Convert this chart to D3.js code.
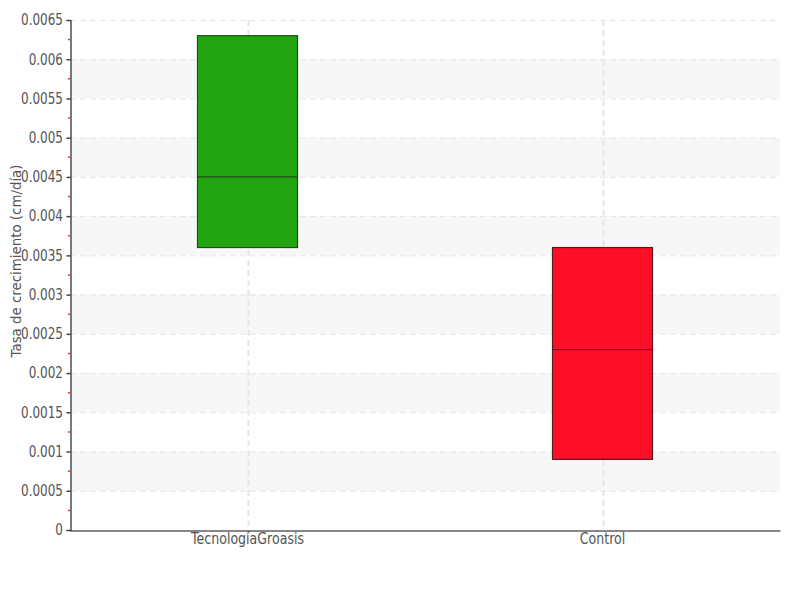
<!DOCTYPE html>
<html><head><meta charset="utf-8">
<script src="https://cdn.jsdelivr.net/npm/d3@7"></script>
<style>body{margin:0;background:#fff;} text{font-family:"DejaVu Sans",sans-serif;}</style>
</head><body><svg id="c" width="800" height="600"></svg>
<script>
const categories = ["TecnologíaGroasis", "Control"];
const q1 = [0.0036, 0.0009];
const median = [0.0045, 0.0023];
const q3 = [0.0063, 0.0036];
const colors = ["#22a511", "#ff0e28"];
const strokes = ["#1e4d18", "#5a1a22"];
const yTicks = [0,0.0005,0.001,0.0015,0.002,0.0025,0.003,0.0035,0.004,0.0045,0.005,0.0055,0.006,0.0065];
const yTickLabels = ["0","0.0005","0.001","0.0015","0.002","0.0025","0.003","0.0035","0.004","0.0045","0.005","0.0055","0.006","0.0065"];
const yTitle = "Tasa de crecimiento (cm/día)";

const svg = d3.select("#c");
const L=70,R=780,T=20,B=530;
const y = d3.scaleLinear().domain([0,0.0065]).range([B,T]);
const x = d3.scaleBand().domain(categories).range([L,R]);

for(let i=0;i<yTicks.length-1;i++){
  if(i%2===1){
    svg.append("rect").attr("x",L).attr("width",R-L)
      .attr("y",y(yTicks[i+1])).attr("height",y(yTicks[i])-y(yTicks[i+1]))
      .attr("fill","#f7f7f7");
  }
}
svg.append("g").selectAll("line").data(yTicks.slice(1)).join("line")
  .attr("x1",L).attr("x2",R-3).attr("y1",d=>y(d)+0.5).attr("y2",d=>y(d)+0.5)
  .attr("stroke","#e6e6e6").attr("stroke-dasharray","6,4");
svg.append("g").selectAll("line").data(categories).join("line")
  .attr("x1",d=>Math.round(x(d)+x.bandwidth()/2)+0.5).attr("x2",d=>Math.round(x(d)+x.bandwidth()/2)+0.5)
  .attr("y1",T).attr("y2",B)
  .attr("stroke","#e6e6e6").attr("stroke-width",2).attr("stroke-dasharray","6,4");

const bw=100;
categories.forEach((c,i)=>{
  const cx=x(c)+x.bandwidth()/2;
  svg.append("rect").attr("x",cx-bw/2).attr("width",bw)
    .attr("y",y(q3[i])).attr("height",y(q1[i])-y(q3[i]))
    .attr("fill",colors[i]).attr("stroke",strokes[i]).attr("stroke-width",1.2);
  svg.append("line").attr("x1",cx-bw/2).attr("x2",cx+bw/2)
    .attr("y1",y(median[i])).attr("y2",y(median[i]))
    .attr("stroke",strokes[i]).attr("stroke-width",1.2);
});

const ya = svg.append("g").attr("transform",`translate(${L+0.5},0)`)
  .call(d3.axisLeft(y).tickValues(yTicks).tickFormat((d,i)=>yTickLabels[i]).tickSize(4).tickPadding(3));
ya.select(".domain").attr("stroke","#222").attr("stroke-width",1.2);
ya.selectAll(".tick line").attr("stroke","#444").attr("stroke-width",1.5);
ya.selectAll(".tick text").attr("fill","#555").attr("font-size",15).attr("x",-7.5/0.8)
  .attr("transform","scale(0.8,1)");
const minor = yTicks.slice(0,-1).map(d=>d+0.00025);
svg.append("g").selectAll("line").data(minor).join("line")
  .attr("x1",L-2).attr("x2",L).attr("y1",d=>y(d)).attr("y2",d=>y(d))
  .attr("stroke","#ff3030").attr("stroke-width",1.5);

const xa = svg.append("g").attr("transform",`translate(0,${B+0.5})`)
  .call(d3.axisBottom(x).tickSize(0).tickPadding(3));
xa.select(".domain").attr("stroke","#111").attr("stroke-width",1);
xa.selectAll(".tick text").attr("fill","#555").attr("font-size",15).attr("transform","scale(0.84,1)");

svg.append("text").attr("transform",`translate(21,261) rotate(-90)`)
  .attr("text-anchor","middle").attr("fill","#555").attr("font-size",13.5)
  .attr("textLength",193).attr("lengthAdjust","spacingAndGlyphs").text(yTitle);
</script></body></html>
